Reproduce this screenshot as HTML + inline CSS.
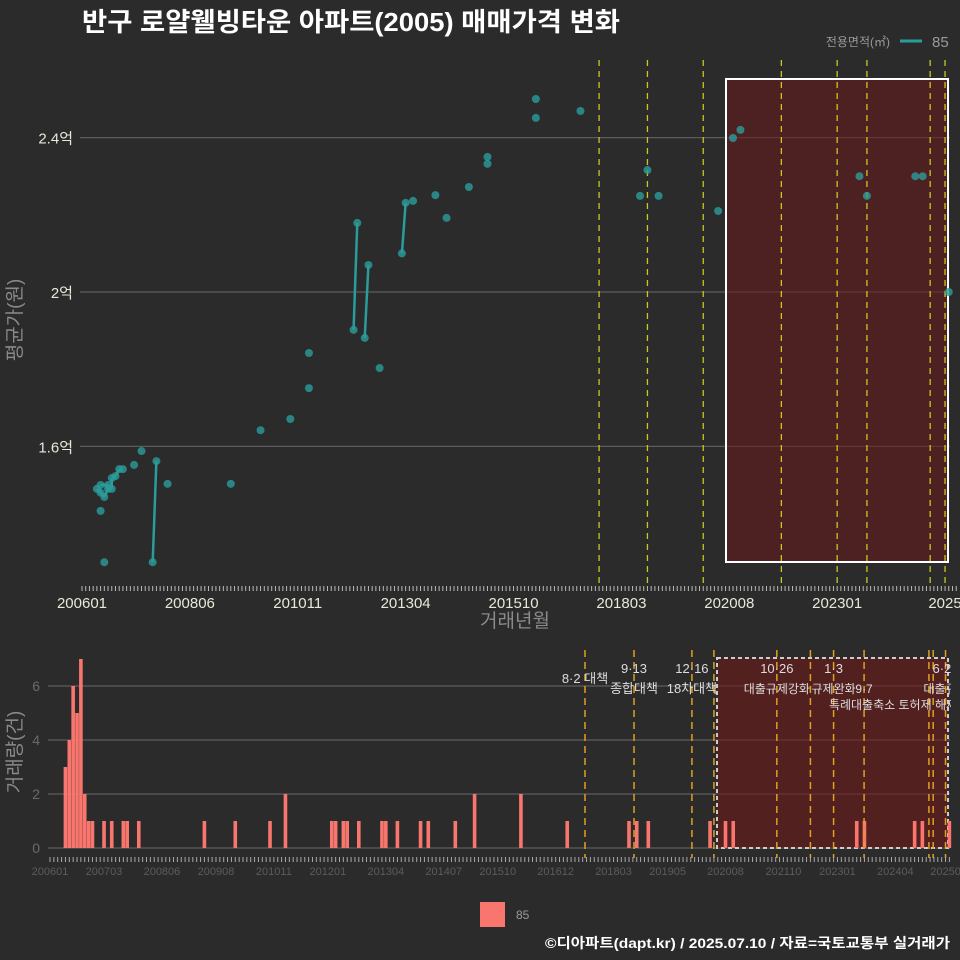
<!DOCTYPE html>
<html><head><meta charset="utf-8">
<style>
html,body{margin:0;padding:0;background:#2b2b2c;}
svg{display:block;font-family:"Liberation Sans","Noto Sans CJK KR",sans-serif;}
</style></head>
<body>
<svg id="c" width="960" height="960" viewBox="0 0 960 960">
<rect x="0" y="0" width="960" height="960" fill="#2b2b2c"/>
<text x="82" y="31" fill="#ffffff" font-size="26" font-weight="bold" textLength="538" lengthAdjust="spacingAndGlyphs">반구 로얄웰빙타운 아파트(2005) 매매가격 변화</text>
<g>
<text x="890" y="46" fill="#9a9a9a" font-size="12" text-anchor="end">전용면적(㎡)</text>
<line x1="900" y1="41" x2="922" y2="41" stroke="#2a9d9b" stroke-width="3"/>
<text x="932" y="47" fill="#9a9a9a" font-size="15">85</text>
</g>
<g id="topg"></g>
<g id="botg"></g>
<g>
<rect x="480" y="902" width="25" height="25" fill="#f8766d"/>
<text x="516" y="919" fill="#9a9a9a" font-size="12">85</text>
</g>
<text x="950" y="948" fill="#ffffff" font-size="14" font-weight="bold" text-anchor="end" textLength="405" lengthAdjust="spacingAndGlyphs">©디아파트(dapt.kr) / 2025.07.10 / 자료=국토교통부 실거래가</text>
</svg>
<script>
// ---- data (months since 2006-01, prices in 억, counts) ----
const priceMonths = [4,5,5,6,7,7,8,8,9,10,11,5,6,14,16,19,20,23,40,48,56,61,61,73,74,76,77,80,86,87,89,95,98,104,109,109,122,122,134,150,152,155,171,175,177,209,211,224,226,233];
const priceValues = [1.49,1.48,1.50,1.469,1.49,1.50,1.49,1.518,1.523,1.541,1.541,1.433,1.30,1.552,1.588,1.30,1.562,1.503,1.503,1.642,1.671,1.751,1.842,1.902,2.179,1.881,2.07,1.803,2.10,2.231,2.236,2.251,2.192,2.272,2.35,2.332,2.50,2.451,2.469,2.249,2.316,2.249,2.21,2.399,2.42,2.30,2.249,2.30,2.30,2.0];
const linkedPairs = [[0,1],[1,3],[3,4],[4,6],[6,7],[7,8],[8,9],[2,5],[15,16],[23,24],[25,26],[28,29]];
const yTicks = [1.6,2.0,2.4];
const yTickLabels = ["1.6억","2억","2.4억"];
const xTickMonths = [0,29,58,87,116,145,174,203,232];
const xTickLabels = ["200601","200806","201011","201304","201510","201803","202008","202301","2025"];
const topPolicyMonths = [139,152,167,188,203,211,228,232];
const volMonths = [4,5,6,7,8,9,10,11,14,16,19,20,23,40,48,57,61,73,74,76,77,80,86,87,90,96,98,105,110,122,134,150,152,155,171,175,177,209,211,224,226,233];
const volCounts = [3,4,6,5,7,2,1,1,1,1,1,1,1,1,1,1,2,1,1,1,1,1,1,1,1,1,1,1,2,2,1,1,1,1,1,1,1,1,1,1,1,1];
const volTicks = [0,2,4,6];
const botXTickMonths = [0,14,29,43,58,72,87,102,116,131,146,160,175,190,204,219,232];
const botXTickLabels = ["200601","200703","200806","200908","201011","201201","201304","201407","201510","201612","201803","201905","202008","202110","202301","202404","20250"];
const botPolicyMonths = [138.6,151.3,166.3,172,188.3,197,203,210.9,227.7,228.8,232];
const policyTop = ["8·2 대책","9·13","12·16","10·26","1·3","","6·27"];
const policyTopMonths = [138.6,151.3,166.3,188.3,203,210.9,232];
const policyBottom = ["","종합대책","18차대책","대출규제강화","규제완화","9·7","대출규제"];

const NS="http://www.w3.org/2000/svg";
function mk(p,tag,a){const e=document.createElementNS(NS,tag);for(const k in a)e.setAttribute(k,a[k]);p.appendChild(e);return e;}
const topG=document.getElementById('topg'), botG=document.getElementById('botg');
const tx=m=>82+m*3.72, ty=v=>292-(v-2)*386;
const bx=m=>50+m*3.86, by=c=>848-c*27;

yTicks.forEach((v,i)=>{
  const g=mk(topG,'line',{x1:80,x2:950,y1:ty(v),y2:ty(v),stroke:'#5c5c5c','stroke-width':1.2});
  
  
  const t=mk(topG,'text',{x:73,y:ty(v)+6,fill:'#e8e8d8','font-size':15,'text-anchor':'end'});
  t.textContent=yTickLabels[i];
  
  
});
const sh=mk(topG,'rect',{x:726,y:79,width:222,height:483,fill:'rgba(105,25,25,0.55)',stroke:'#ffffff','stroke-width':2});


topPolicyMonths.forEach(m=>{
  const l=mk(topG,'line',{x1:tx(m),x2:tx(m),y1:60,y2:588,stroke:'#c8c820','stroke-width':1.3,'stroke-dasharray':'6,5'});
  
  
});
for(let m=0;m<=235;m++){
  const k=mk(topG,'line',{x1:tx(m),x2:tx(m),y1:586,y2:591,stroke:'#bbbbbb','stroke-width':1});
  
  
}
xTickMonths.forEach((m,i)=>{
  const t=mk(topG,'text',{x:tx(m),y:608,fill:'#e8e8d8','font-size':15,'text-anchor':'middle'});
  t.textContent=xTickLabels[i];
  
  
});
const xt=mk(topG,'text',{x:515,y:627,fill:'#8a8a8a','font-size':19,'text-anchor':'middle'});xt.textContent='거래년월';


const yt=mk(topG,'text',{x:0,y:0,fill:'#8a8a8a','font-size':19,'text-anchor':'middle',transform:'translate(21,320) rotate(-90)'});yt.textContent='평균가(원)';


linkedPairs.forEach(([a,b])=>{
  const l=mk(topG,'line',{x1:tx(priceMonths[a]),y1:ty(priceValues[a]),x2:tx(priceMonths[b]),y2:ty(priceValues[b]),stroke:'#2a9d9b','stroke-width':2.5});
  
  
});
priceMonths.forEach((m,i)=>{
  const c=mk(topG,'circle',{cx:tx(m),cy:ty(priceValues[i]),r:4,fill:'#2a9d9b','fill-opacity':0.8});
  
  
});

volTicks.forEach(v=>{
  const g=mk(botG,'line',{x1:48,x2:950,y1:by(v),y2:by(v),stroke:'#6a6a6a','stroke-width':1});
  
  
  const t=mk(botG,'text',{x:40,y:by(v)+5,fill:'#6a6a6a','font-size':14,'text-anchor':'end'});t.textContent=v;
  
  
});
const bs=mk(botG,'rect',{x:717,y:658,width:231,height:190,fill:'rgba(110,25,25,0.6)',stroke:'#cccccc','stroke-width':2,'stroke-dasharray':'4,3'});


volMonths.forEach((m,i)=>{
  const r=mk(botG,'rect',{x:bx(m)-1.8,y:by(volCounts[i]),width:3.6,height:volCounts[i]*27,fill:'#f8766d'});
  
  
});
botPolicyMonths.forEach(m=>{
  const l=mk(botG,'line',{x1:bx(m),x2:bx(m),y1:650,y2:858,stroke:'#e0a020','stroke-width':1.5,'stroke-dasharray':'7,5'});
  
  
});
policyTopMonths.forEach((m,i)=>{
  const x=bx(m);
  if(policyTop[i]){const t=mk(botG,'text',{x:x,y:i==0?683:673,fill:'#dddddd','font-size':13,'text-anchor':'middle'});t.textContent=policyTop[i];
  
  }
  if(policyBottom[i]){const t=mk(botG,'text',{x:x,y:693,fill:'#dddddd','font-size':i<3?13:12,'text-anchor':'middle'});t.textContent=policyBottom[i];
  
  }
});
const ex=mk(botG,'text',{x:893,y:709,fill:'#dddddd','font-size':12,'text-anchor':'middle'});ex.textContent='특례대출축소 토허제 해제';


const cv=mk(botG,'rect',{x:951,y:640,width:9,height:80,fill:'#2b2b2c'});


for(let m=0;m<=233;m++){
  const k=mk(botG,'line',{x1:bx(m),x2:bx(m),y1:857,y2:862,stroke:'#aaaaaa','stroke-width':1});
  
  
}
botXTickMonths.forEach((m,i)=>{
  const t=mk(botG,'text',{x:bx(m),y:875,fill:'#5c5c5c','font-size':11,'text-anchor':'middle'});t.textContent=botXTickLabels[i];
  
  
});
const by2=mk(botG,'text',{x:0,y:0,fill:'#8a8a8a','font-size':19,'text-anchor':'middle',transform:'translate(21,752) rotate(-90)'});by2.textContent='거래량(건)';


</script>
</body></html>
